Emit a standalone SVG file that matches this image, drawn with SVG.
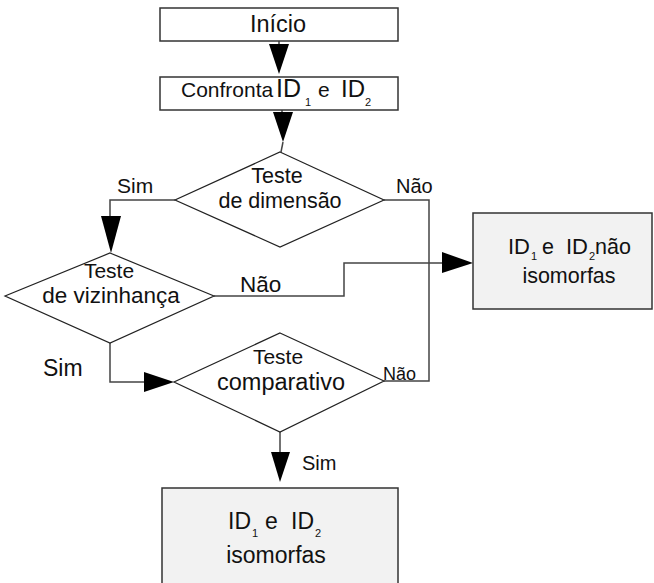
<svg xmlns="http://www.w3.org/2000/svg" width="654" height="583" viewBox="0 0 654 583">
<style>
.box{stroke:#333;stroke-width:1.5;}
.white{fill:#fff;}
.gray{fill:#f2f2f2;}
.dia{fill:#fff;stroke:#222;stroke-width:1.2;}
.t{font-family:"Liberation Sans",Arial,sans-serif;fill:#111;text-anchor:middle;}
.s{font-family:"Liberation Sans",Arial,sans-serif;fill:#111;}
.lbl{font-family:"Liberation Sans",Arial,sans-serif;fill:#111;}
.conn{fill:none;stroke:#444;stroke-width:1.5;}
.head{fill:#000;stroke:none;}
</style>
<rect width="654" height="583" fill="#fff"/>
<g id="connectors">
<line class="conn" x1="279" y1="41" x2="279" y2="46"/>
<polygon class="head" points="269,44 289,44 279,74"/>
<line class="conn" x1="282" y1="110" x2="282" y2="114"/>
<polygon class="head" points="273,112 293,112 283,142"/>
<line class="conn" x1="283" y1="142" x2="281" y2="152"/>
<polyline class="conn" points="175,200 110,200 110,218"/>
<polygon class="head" points="101,216 121,216 111,253"/>
<polyline class="conn" points="214,296 344,296 344,263 444,263"/>
<polygon class="head" points="442,252 442,273 473,263"/>
<polyline class="conn" points="384,200 429,200 429,381 384,381"/>
<polyline class="conn" points="110,343 110,382 146,382"/>
<polygon class="head" points="144,372 144,392 174,382"/>
<line class="conn" x1="280" y1="432" x2="280" y2="454"/>
<polygon class="head" points="271,452 290,452 280,482"/>
</g>
<g id="inicio">
<rect class="box white" x="160" y="8" width="238" height="33"/>
<text class="t" x="278" y="32" font-size="23.5">Início</text>
</g>
<g id="confronta">
<rect class="box white" x="160" y="77" width="238" height="33"/>
<text class="s" y="97" font-size="21"><tspan x="181">Confronta</tspan><tspan x="276" font-size="25">ID</tspan><tspan x="305" y="106" font-size="11">1</tspan><tspan x="318" y="97">e</tspan><tspan x="341" font-size="24">ID</tspan><tspan x="365" y="106" font-size="11">2</tspan></text>
</g>
<g id="teste-dimensao">
<polygon class="dia" points="280,152 384,200 280,247 175,200"/>
<text class="t" x="277" y="183" font-size="21.5">Teste</text>
<text class="t" x="280" y="208" font-size="21.5">de dimensão</text>
</g>
<g id="teste-vizinhanca">
<polygon class="dia" points="110,253 214,296 110,343 5,296"/>
<text class="t" x="109" y="278" font-size="21">Teste</text>
<text class="t" x="111" y="303" font-size="22.5">de vizinhança</text>
</g>
<g id="teste-comparativo">
<polygon class="dia" points="280,333 384,381 280,432 174,382"/>
<text class="t" x="278" y="364" font-size="21">Teste</text>
<text class="t" x="281" y="390" font-size="23.5">comparativo</text>
</g>
<g id="nao-isomorfas">
<rect class="box gray" x="473" y="213" width="179" height="96"/>
<text class="s" y="254" font-size="21.5"><tspan x="508" font-size="22">ID</tspan><tspan x="531" y="260" font-size="11">1</tspan><tspan x="542" y="254">e</tspan><tspan x="566" font-size="22">ID</tspan><tspan x="589" y="260" font-size="11">2</tspan><tspan x="595" y="254">não</tspan></text>
<text class="t" x="569" y="283" font-size="21.5">isomorfas</text>
</g>
<g id="isomorfas">
<rect class="box gray" x="162" y="488" width="236" height="110"/>
<text class="s" y="529" font-size="23"><tspan x="228" font-size="23">ID</tspan><tspan x="252" y="537" font-size="11">1</tspan><tspan x="265" y="529">e</tspan><tspan x="291" font-size="23">ID</tspan><tspan x="315" y="537" font-size="11">2</tspan></text>
<text class="t" x="276" y="563" font-size="23">isomorfas</text>
</g>
<g id="labels">
<text class="lbl" x="117" y="193" font-size="21">Sim</text>
<text class="lbl" x="396" y="193" font-size="20">Não</text>
<text class="lbl" x="240" y="292" font-size="22.5">Não</text>
<text class="lbl" x="43" y="376" font-size="23">Sim</text>
<text class="lbl" x="383" y="380" font-size="18">Não</text>
<text class="lbl" x="302" y="470" font-size="20">Sim</text>
</g>
</svg>
